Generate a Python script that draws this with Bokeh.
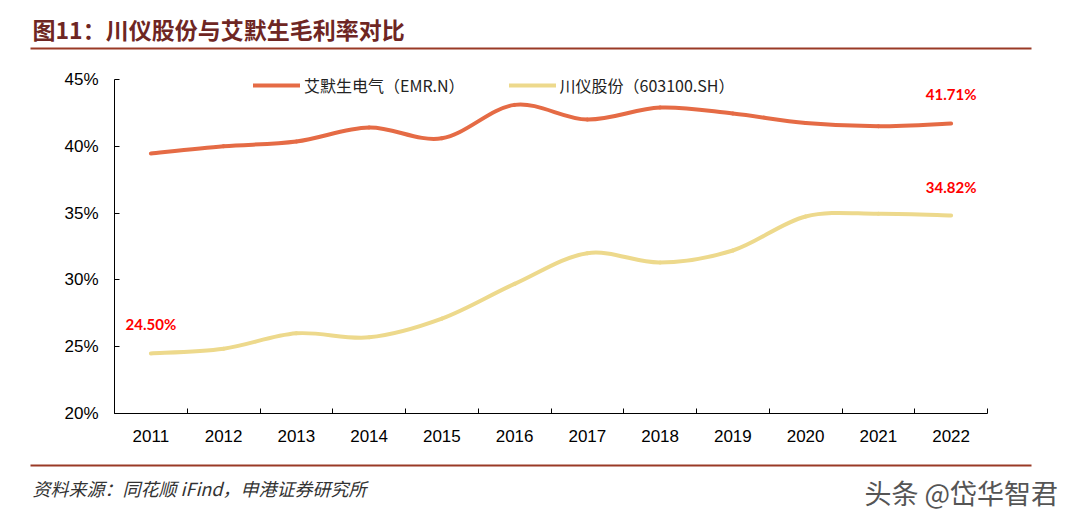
from bokeh.plotting import figure
from bokeh.layouts import column
from bokeh.models import (Range1d, FixedTicker, Label, Legend, LegendItem, ColumnDataSource)
from bokeh.core.properties import value
from bokeh.embed import file_html
from bokeh.resources import INLINE

years = ["2011", "2012", "2013", "2014", "2015", "2016", "2017", "2018", "2019", "2020", "2021", "2022"]
emr = [39.46, 40.0, 40.36, 41.4, 40.6, 43.1, 42.0, 42.9, 42.45, 41.75, 41.5, 41.71]
chuanyi = [24.50, 24.85, 26.0, 25.7, 27.1, 29.7, 32.0, 31.3, 32.2, 34.75, 34.95, 34.82]
y_ticks = [20, 25, 30, 35, 40, 45]
name_emr = "艾默生电气（EMR.N）"
name_cy = "川仪股份（603100.SH）"
title_text = "图11：川仪股份与艾默生毛利率对比"
source_text = "资料来源：同花顺 iFind，申港证券研究所"
watermark_text = "头条 @岱华智君"

C_EMR = "#E56B45"
C_CY = "#EDD98C"
C_RULE = "#9A3A26"
CJK = "Noto Sans CJK SC"

W = 1067
H_TOP, H_MAIN, H_BOT = 60, 390, 66

# vertical layout of the plot frame (page pixels)
Y45_PX, Y20_PX, FRAME_TOP_PX = 79, 413, 70
px_per_unit = (Y20_PX - Y45_PX) / (y_ticks[-1] - y_ticks[0])
y_top = y_ticks[0] + (Y20_PX - FRAME_TOP_PX) / px_per_unit


def blank_fig(h, y0):
    f = figure(width=W, height=h, output_backend="svg", toolbar_location=None,
               x_range=Range1d(0, W), y_range=Range1d(y0 + h, y0),
               x_axis_location=None, y_axis_location=None, frame_align=False,
               min_border=0, min_border_left=0, min_border_right=0,
               min_border_top=0, min_border_bottom=0)
    f.outline_line_color = None
    f.grid.visible = False
    return f


# ---- header
top = blank_fig(H_TOP, 0)
top.text(x=[32], y=[28], text=[title_text], text_font=value(CJK), text_font_style="bold",
         text_font_size="23px", text_color="#6E2623", text_baseline="middle")
top.segment(x0=[30], y0=[48], x1=[1031], y1=[48], line_color=C_RULE, line_width=2)

# ---- main chart
p = figure(width=W, height=H_MAIN, output_backend="svg", toolbar_location=None,
           x_range=Range1d(-0.5, len(years) - 0.5), y_range=Range1d(y_ticks[0], y_top),
           frame_align=False,
           min_border_left=114, min_border_right=W - 987, min_border_top=FRAME_TOP_PX - H_TOP,
           min_border_bottom=H_TOP + H_MAIN - Y20_PX)
p.outline_line_color = None
p.xgrid.visible = False
p.ygrid.visible = False


def smooth_source(vals):
    n = len(vals)
    xs = list(range(n))
    d = dict(x0=[], y0=[], x1=[], y1=[], cx0=[], cy0=[], cx1=[], cy1=[])
    for i in range(n - 1):
        im = max(i - 1, 0)
        ip2 = min(i + 2, n - 1)
        d["x0"].append(xs[i]); d["y0"].append(vals[i])
        d["x1"].append(xs[i + 1]); d["y1"].append(vals[i + 1])
        d["cx0"].append(xs[i] + (xs[i + 1] - xs[im]) / 6)
        d["cy0"].append(vals[i] + (vals[i + 1] - vals[im]) / 6)
        d["cx1"].append(xs[i + 1] - (xs[ip2] - xs[i]) / 6)
        d["cy1"].append(vals[i + 1] - (vals[ip2] - vals[i]) / 6)
    return ColumnDataSource(d)


r_emr = p.bezier(x0="x0", y0="y0", x1="x1", y1="y1", cx0="cx0", cy0="cy0", cx1="cx1", cy1="cy1",
                 source=smooth_source(emr), line_color=C_EMR, line_width=4, line_cap="round")
r_cy = p.bezier(x0="x0", y0="y0", x1="x1", y1="y1", cx0="cx0", cy0="cy0", cx1="cx1", cy1="cy1",
                source=smooth_source(chuanyi), line_color=C_CY, line_width=4, line_cap="round")

xa = p.xaxis[0]
xa.ticker = FixedTicker(ticks=list(range(len(years))),
                        minor_ticks=[i - 0.5 for i in range(len(years) + 1)])
xa.major_label_overrides = {i: y for i, y in enumerate(years)}
xa.major_tick_in = 0
xa.major_tick_out = 0
xa.minor_tick_in = 5
xa.minor_tick_out = 0
xa.minor_tick_line_color = "black"
xa.axis_line_color = "black"
xa.major_label_text_font = "Liberation Sans"
xa.major_label_text_font_size = "17px"
xa.major_label_text_color = "black"
xa.major_label_standoff = 16

ya = p.yaxis[0]
ya.ticker = FixedTicker(ticks=y_ticks, minor_ticks=[])
ya.bounds = (y_ticks[0], y_ticks[-1])
ya.major_label_overrides = {t: f"{t}%" for t in y_ticks}
ya.major_tick_in = 5
ya.major_tick_out = 0
ya.major_tick_line_color = "black"
ya.axis_line_color = "black"
ya.major_label_text_font = "Liberation Sans"
ya.major_label_text_font_size = "17px"
ya.major_label_text_color = "black"
ya.major_label_standoff = 16

legend = Legend(items=[LegendItem(label=name_emr, renderers=[r_emr]),
                       LegendItem(label=name_cy, renderers=[r_cy])],
                orientation="horizontal", location=(139, 315),
                label_text_font=CJK, label_text_font_size="16px", label_text_color="#222",
                glyph_width=47, glyph_height=26, label_height=26, label_standoff=4,
                label_width=158, spacing=44, padding=0, margin=0, border_line_color=None,
                background_fill_alpha=0)
p.add_layout(legend)

for idx, vals in ((0, chuanyi), (len(years) - 1, emr), (len(years) - 1, chuanyi)):
    p.add_layout(Label(x=idx, y=vals[idx], text=f"{vals[idx]:.2f}%", text_align="center",
                       text_baseline="middle", y_offset=29, text_font="Lato",
                       text_font_style="bold", text_font_size="15px", text_color="#FF0000"))

# ---- footer
bot = blank_fig(H_BOT, H_TOP + H_MAIN)
bot.segment(x0=[30], y0=[465], x1=[1031], y1=[465], line_color=C_RULE, line_width=2)
bot.text(x=[32], y=[487], text=[source_text], text_font=value(CJK), text_font_style="italic",
         text_font_size="18px", text_color="#333333", text_baseline="middle")
bot.text(x=[864], y=[492], text=[watermark_text], text_font=value(CJK),
         text_font_size="27px", text_color="#555555", text_baseline="middle")

layout = column(top, p, bot, spacing=0)
open("out.html", "w").write(file_html(layout, INLINE))
